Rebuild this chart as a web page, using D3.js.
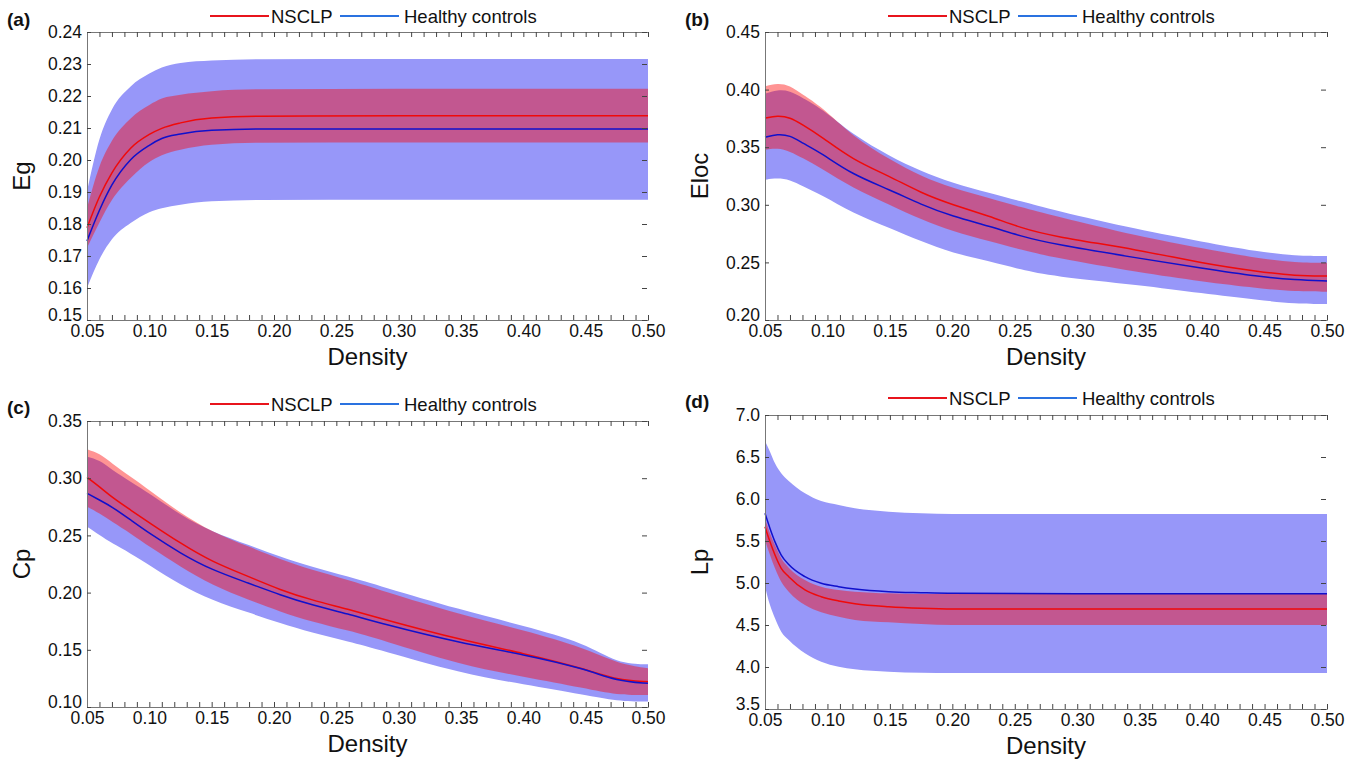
<!DOCTYPE html>
<html>
<head>
<meta charset="utf-8">
<script src="https://cdn.jsdelivr.net/npm/d3@7"></script>
<style>
  body { margin: 0; background: #fff; }
  text { font-family: "Liberation Sans", Arial, sans-serif; fill: #111; }
</style>
</head>
<body>
<svg id="fig" width="1355" height="764"></svg>
<script>
// values (density on x, metric on y)
var xTicks = [0.05, 0.10, 0.15, 0.20, 0.25, 0.30, 0.35, 0.40, 0.45, 0.50]

// (a) Eg
var egDensity  = [0.05, 0.06, 0.07, 0.085, 0.10, 0.11, 0.125, 0.15, 0.19, 0.30, 0.50]
var egNsclp    = [0.1788, 0.1885, 0.1960, 0.2037, 0.2080, 0.2099, 0.2116, 0.2131, 0.2137, 0.2138, 0.2138]
var egNsclpUp  = [0.1850, 0.1980, 0.2060, 0.2130, 0.2172, 0.2192, 0.2204, 0.2215, 0.2221, 0.2223, 0.2223]
var egNsclpLo  = [0.1725, 0.1805, 0.1875, 0.1944, 0.1994, 0.2015, 0.2032, 0.2048, 0.2054, 0.2055, 0.2055]
var egHc       = [0.1747, 0.1843, 0.1922, 0.2001, 0.2046, 0.2067, 0.2081, 0.2093, 0.2097, 0.2097, 0.2097]
var egHcUp     = [0.1902, 0.2065, 0.2158, 0.2230, 0.2270, 0.2289, 0.2303, 0.2311, 0.2315, 0.2316, 0.2316]
var egHcLo     = [0.1600, 0.1690, 0.1752, 0.1803, 0.1837, 0.1849, 0.1860, 0.1871, 0.1875, 0.1876, 0.1876]
var egTicks    = [0.15, 0.16, 0.17, 0.18, 0.19, 0.20, 0.21, 0.22, 0.23, 0.24]

// (b) Eloc
var elocDensity = [0.05, 0.06, 0.07, 0.08, 0.095, 0.12, 0.15, 0.175, 0.20, 0.23, 0.255, 0.28, 0.35, 0.40, 0.445, 0.475, 0.50]
var elocNsclp   = [0.3753, 0.3774, 0.3760, 0.3696, 0.3594, 0.3392, 0.3247, 0.3102, 0.3001, 0.2900, 0.2799, 0.2727, 0.2608, 0.2492, 0.2420, 0.2382, 0.2382]
var elocNsclpUp = [0.4029, 0.4057, 0.4037, 0.3956, 0.3855, 0.3595, 0.3392, 0.3247, 0.3146, 0.3059, 0.2978, 0.2909, 0.2723, 0.2622, 0.2535, 0.2497, 0.2497]
var elocNsclpLo = [0.3478, 0.3493, 0.3464, 0.3406, 0.3319, 0.3146, 0.3001, 0.2871, 0.2770, 0.2683, 0.2610, 0.2544, 0.2411, 0.2333, 0.2275, 0.2246, 0.2246]
var elocHc      = [0.3586, 0.3615, 0.3603, 0.3536, 0.3450, 0.3262, 0.3131, 0.3001, 0.2900, 0.2813, 0.2727, 0.2660, 0.2535, 0.2449, 0.2376, 0.2347, 0.2339]
var elocHcUp    = [0.3964, 0.3999, 0.3990, 0.3927, 0.3840, 0.3609, 0.3421, 0.3291, 0.3189, 0.3102, 0.3030, 0.2957, 0.2781, 0.2680, 0.2593, 0.2556, 0.2556]
var elocHcLo    = [0.3218, 0.3233, 0.3218, 0.3161, 0.3088, 0.2929, 0.2799, 0.2683, 0.2582, 0.2510, 0.2437, 0.2379, 0.2304, 0.2232, 0.2174, 0.2139, 0.2139]
var elocTicks   = [0.20, 0.25, 0.30, 0.35, 0.40, 0.45]

// (c) Cp
var cpDensity = [0.05, 0.06, 0.07, 0.085, 0.10, 0.125, 0.15, 0.18, 0.205, 0.23, 0.26, 0.285, 0.35, 0.40, 0.45, 0.475, 0.50]
var cpNsclp   = [0.3008, 0.2926, 0.2833, 0.2722, 0.2611, 0.2431, 0.2270, 0.2139, 0.2023, 0.1935, 0.1854, 0.1775, 0.1586, 0.1470, 0.1332, 0.1236, 0.1221]
var cpNsclpUp = [0.3253, 0.3218, 0.3130, 0.3013, 0.2897, 0.2693, 0.2532, 0.2401, 0.2291, 0.2198, 0.2110, 0.2023, 0.1804, 0.1673, 0.1513, 0.1382, 0.1338]
var cpNsclpLo = [0.2751, 0.2693, 0.2620, 0.2518, 0.2401, 0.2227, 0.2066, 0.1935, 0.1833, 0.1746, 0.1667, 0.1592, 0.1367, 0.1265, 0.1163, 0.1105, 0.1105]
var cpHc      = [0.2868, 0.2809, 0.2751, 0.2635, 0.2518, 0.2343, 0.2198, 0.2081, 0.1979, 0.1892, 0.1813, 0.1732, 0.1557, 0.1461, 0.1332, 0.1227, 0.1207]
var cpHcUp    = [0.3188, 0.3159, 0.3072, 0.2970, 0.2868, 0.2678, 0.2532, 0.2416, 0.2314, 0.2227, 0.2139, 0.2058, 0.1848, 0.1711, 0.1557, 0.1382, 0.1373]
var cpHcLo    = [0.2576, 0.2503, 0.2431, 0.2343, 0.2241, 0.2066, 0.1935, 0.1824, 0.1732, 0.1650, 0.1571, 0.1498, 0.1295, 0.1198, 0.1105, 0.1052, 0.1047]
var cpTicks   = [0.10, 0.15, 0.20, 0.25, 0.30, 0.35]

// (d) Lp
var lpDensity = [0.05, 0.054, 0.058, 0.063, 0.069, 0.082, 0.095, 0.109, 0.122, 0.149, 0.175, 0.20, 0.30, 0.50]
var lpNsclp   = [5.67, 5.49, 5.333, 5.175, 5.075, 4.917, 4.837, 4.786, 4.754, 4.718, 4.699, 4.69, 4.69, 4.69]
var lpNsclpUp = [5.77, 5.592, 5.452, 5.294, 5.183, 5.036, 4.956, 4.917, 4.897, 4.877, 4.869, 4.869, 4.869, 4.869]
var lpNsclpLo = [5.512, 5.333, 5.175, 5.016, 4.897, 4.738, 4.651, 4.599, 4.56, 4.532, 4.512, 4.50, 4.50, 4.50]
var lpHc      = [5.83, 5.65, 5.49, 5.333, 5.22, 5.075, 4.996, 4.956, 4.929, 4.897, 4.885, 4.877, 4.872, 4.872]
var lpHcUp    = [6.69, 6.563, 6.425, 6.306, 6.214, 6.068, 5.976, 5.929, 5.889, 5.849, 5.83, 5.821, 5.82, 5.82]
var lpHcLo    = [4.956, 4.738, 4.58, 4.42, 4.321, 4.163, 4.063, 4.004, 3.972, 3.944, 3.932, 3.929, 3.929, 3.929]
var lpTicks   = [3.5, 4.0, 4.5, 5.0, 5.5, 6.0, 6.5, 7.0]

var panels = [
  {tag: "(a)", ylab: "Eg", box: [87, 648, 32, 320], dom: [0.15, 0.24], ticks: egTicks, fmt: ".2f", legY: 16,
   curve: d3.curveMonotoneX, x: egDensity, n: [egNsclp, egNsclpUp, egNsclpLo], h: [egHc, egHcUp, egHcLo]},
  {tag: "(b)", ylab: "Eloc", box: [765, 1327, 32, 320], dom: [0.20, 0.45], ticks: elocTicks, fmt: ".2f", legY: 16,
   curve: d3.curveBasis, x: elocDensity, n: [elocNsclp, elocNsclpUp, elocNsclpLo], h: [elocHc, elocHcUp, elocHcLo]},
  {tag: "(c)", ylab: "Cp", box: [87, 648, 421, 707], dom: [0.10, 0.35], ticks: cpTicks, fmt: ".2f", legY: 404,
   curve: d3.curveBasis, x: cpDensity, n: [cpNsclp, cpNsclpUp, cpNsclpLo], h: [cpHc, cpHcUp, cpHcLo]},
  {tag: "(d)", ylab: "Lp", box: [765, 1327, 415, 709], dom: [3.5, 7.0], ticks: lpTicks, fmt: ".1f", legY: 398,
   curve: d3.curveMonotoneX, x: lpDensity, n: [lpNsclp, lpNsclpUp, lpNsclpLo], h: [lpHc, lpHcUp, lpHcLo]}
]

var svg = d3.select("#fig")
var minor = d3.range(5, 51).map(d => d / 100)
var font = "Liberation Sans, Arial, sans-serif"

panels.forEach(function(p) {
  var x0 = p.box[0], x1 = p.box[1], y0 = p.box[2], y1 = p.box[3]
  var x = d3.scaleLinear().domain([0.05, 0.50]).range([x0, x1])
  var y = d3.scaleLinear().domain(p.dom).range([y1, y0])
  var g = svg.append("g")

  var rows = p.x.map((d, i) => ({d: d, nm: p.n[0][i], nu: p.n[1][i], nl: p.n[2][i],
                                 hm: p.h[0][i], hu: p.h[1][i], hl: p.h[2][i]}))

  var band = (u, l) => d3.area().curve(p.curve).x(r => x(r.d)).y0(r => y(r[l])).y1(r => y(r[u]))
  var line = k => d3.line().curve(p.curve).x(r => x(r.d)).y(r => y(r[k]))

  g.append("path").datum(rows).attr("d", band("hu", "hl")).attr("fill", "#9797f9")
  g.append("path").datum(rows).attr("d", band("nu", "nl")).attr("fill", "#ff0000").attr("fill-opacity", 0.42)
  g.append("path").datum(rows).attr("d", line("nm")).attr("fill", "none").attr("stroke", "#f00a0a").attr("stroke-width", 1.5)
  g.append("path").datum(rows).attr("d", line("hm")).attr("fill", "none").attr("stroke", "#1010cc").attr("stroke-width", 1.5)

  // bottom axis: inward minor ticks, then labels
  var bottom = g.append("g").attr("transform", "translate(0," + y1 + ")")
    .call(d3.axisBottom(x).tickValues(minor).tickSize(-5).tickFormat(""))
  bottom.select(".domain").attr("stroke", "#777")
  bottom.selectAll(".tick line").attr("stroke", "#444")
  var bl = g.append("g").attr("transform", "translate(0," + y1 + ")")
    .call(d3.axisBottom(x).tickValues(xTicks).tickSize(0).tickPadding(5).tickFormat(d3.format(".2f")))
  bl.select(".domain").remove()
  bl.selectAll("text").attr("font-size", 17.5).attr("fill", "#111").attr("font-family", font)

  // top axis: inward minor ticks
  var top = g.append("g").attr("transform", "translate(0," + y0 + ")")
    .call(d3.axisTop(x).tickValues(minor).tickSize(-5).tickFormat(""))
  top.select(".domain").attr("stroke", "#777")
  top.selectAll(".tick line").attr("stroke", "#444")

  // left axis with labels
  var left = g.append("g").attr("transform", "translate(" + x0 + ",0)")
    .call(d3.axisLeft(y).tickValues(p.ticks).tickSize(-4).tickPadding(5).tickFormat(d3.format(p.fmt)))
  left.select(".domain").attr("stroke", "#777")
  left.selectAll(".tick line").attr("stroke", "#444")
  left.selectAll("text").attr("font-size", 17.5).attr("fill", "#111").attr("font-family", font)
  // the lowest y label sits tight on the first x label; nudge it up a touch
  left.selectAll(".tick").filter(d => d === p.dom[0]).select("text").attr("dy", "0.0em")

  // right side: ticks only, no line
  var right = g.append("g").attr("transform", "translate(" + (x1 - 1) + ",0)")
    .call(d3.axisRight(y).tickValues(p.ticks).tickSize(-5).tickFormat(""))
  right.select(".domain").remove()
  right.selectAll(".tick line").attr("stroke", "#444")

  // titles
  g.append("text").attr("x", (x0 + x1) / 2).attr("y", y1 + 45).attr("text-anchor", "middle")
    .attr("font-size", 24).text("Density")
  g.append("text").attr("transform", "translate(" + (x0 - 57) + "," + ((y0 + y1) / 2) + ") rotate(-90)")
    .attr("text-anchor", "middle").attr("font-size", 24).text(p.ylab)
  g.append("text").attr("x", x0 - 80).attr("y", p.legY + 10).attr("font-size", 19)
    .attr("font-weight", "bold").text(p.tag)

  // legend
  var lg = g.append("g").attr("transform", "translate(" + (x0 + 123) + "," + p.legY + ")")
  lg.append("line").attr("x1", 0).attr("x2", 59).attr("stroke", "#e8141c").attr("stroke-width", 2)
  lg.append("text").attr("x", 61).attr("y", 6.5).attr("font-size", 18.5).text("NSCLP")
  lg.append("line").attr("x1", 130).attr("x2", 189).attr("stroke", "#2a72e0").attr("stroke-width", 2)
  lg.append("text").attr("x", 194).attr("y", 6.5).attr("font-size", 18.5).text("Healthy controls")
})
</script>
</body>
</html>
